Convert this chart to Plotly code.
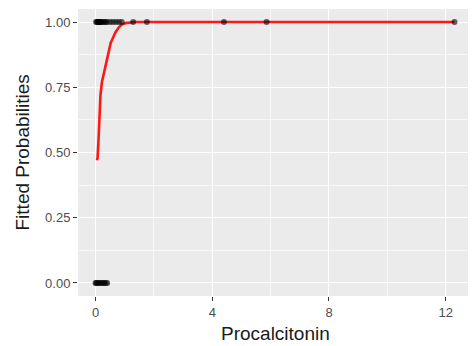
import plotly.graph_objects as go

# Observed data: procalcitonin values by outcome (1 = positive, 0 = negative)
pct_pos = [0.02, 0.05, 0.08, 0.10, 0.12, 0.15, 0.18, 0.20, 0.25, 0.30, 0.35,
           0.40, 0.50, 0.60, 0.70, 0.80, 0.90, 1.29, 1.76, 4.40, 5.86, 12.3]
pct_neg = [0.00, 0.03, 0.06, 0.10, 0.15, 0.20, 0.25, 0.30, 0.35, 0.40]

# Fitted probabilities
fit_x = [0.05, 0.07, 0.10, 0.14, 0.17, 0.22, 0.28, 0.34, 0.40, 0.44, 0.52,
         0.60, 0.68, 0.80, 0.90, 1.02, 1.20, 1.36, 1.76, 4.40, 5.86, 12.3]
fit_y = [0.47, 0.48, 0.54, 0.64, 0.72, 0.77, 0.80, 0.83, 0.86, 0.89, 0.92,
         0.94, 0.96, 0.98, 0.99, 0.996, 0.999, 1.0, 1.0, 1.0, 1.0, 1.0]

x_ticks = [0, 4, 8, 12]
y_ticks = [0.0, 0.25, 0.5, 0.75, 1.0]
y_tick_labels = ["0.00", "0.25", "0.50", "0.75", "1.00"]

# The page body has an 8px margin, so the figure is sized to fit the window.
W, H = 468, 338
ML, MR, MT, MB = 70, 4, 1, 50

fig = go.Figure()
fig.add_trace(go.Scatter(
    x=fit_x, y=fit_y, mode="lines",
    line=dict(color="rgba(255,0,0,0.9)", width=2.6),
    hoverinfo="skip", showlegend=False))
fig.add_trace(go.Scatter(
    x=pct_pos, y=[1] * len(pct_pos), mode="markers",
    marker=dict(color="rgba(0,0,0,0.6)", size=6),
    showlegend=False))
fig.add_trace(go.Scatter(
    x=pct_neg, y=[0] * len(pct_neg), mode="markers",
    marker=dict(color="rgba(0,0,0,0.6)", size=6),
    showlegend=False))

axis_common = dict(
    showgrid=True, gridcolor="white", gridwidth=1.2,
    zeroline=False, showline=False, automargin=False,
    ticks="outside", ticklen=4, tickwidth=1, tickcolor="#333333",
    tickfont=dict(family="Liberation Sans, Arial", size=13, color="#4D4D4D"),
)

pw = W - ML - MR
ph = H - MT - MB

fig.update_layout(
    width=W, height=H,
    margin=dict(l=ML, r=MR, t=MT, b=MB),
    paper_bgcolor="white", plot_bgcolor="#EBEBEB",
    font=dict(family="Liberation Sans, Arial"),
    xaxis=dict(
        **axis_common,
        range=[-0.6, 12.9],
        tickvals=x_ticks, ticktext=[str(v) for v in x_ticks],
        minor=dict(dtick=2, tick0=0, showgrid=True, gridcolor="rgba(255,255,255,0.6)",
                   gridwidth=0.6, ticks=""),
    ),
    yaxis=dict(
        **axis_common,
        range=[-0.05, 1.05],
        tickvals=y_ticks, ticktext=y_tick_labels,
        minor=dict(dtick=0.125, tick0=0, showgrid=True, gridcolor="rgba(255,255,255,0.6)",
                   gridwidth=0.6, ticks=""),
    ),
    annotations=[
        dict(text="Procalcitonin", x=0.5, y=(H - MB - 325) / ph,
             xref="paper", yref="paper", yanchor="middle", xanchor="center",
             showarrow=False, font=dict(size=19, color="#1A1A1A")),
        dict(text="Fitted Probabilities", x=(14 - ML) / pw, y=0.5,
             xref="paper", yref="paper", xanchor="center", yanchor="middle",
             textangle=-90, showarrow=False, font=dict(size=19, color="#1A1A1A")),
    ],
)

fig.write_html("out.html")
